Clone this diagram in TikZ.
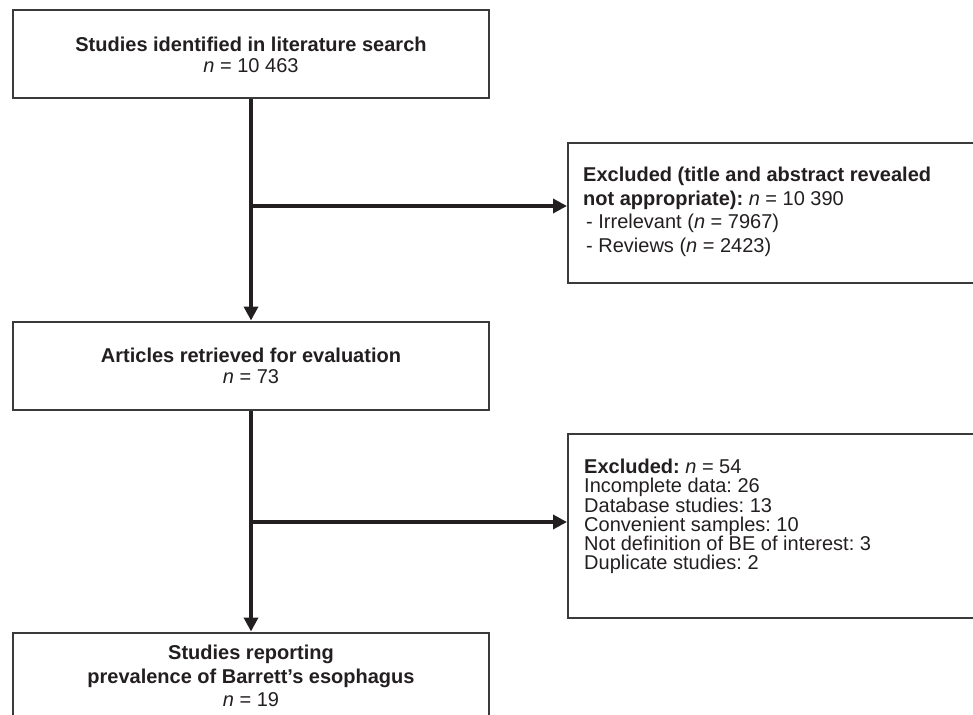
\documentclass[tikz,border=0pt]{standalone}
\usepackage{fontspec}
\setmainfont{Liberation Sans}
\usetikzlibrary{positioning,arrows.meta}

\definecolor{boxgray}{HTML}{3A3A3A}
\definecolor{inkgray}{HTML}{231F20}
\frenchspacing

\begin{document}
\begin{tikzpicture}[x=1pt, y=1pt,
  box/.style = {draw=boxgray, line width=2pt, minimum width=476pt, minimum height=88pt, inner sep=0pt, align=center, text=inkgray, font=\fontsize{20}{21}\selectfont},
  side/.style = {draw=boxgray, line width=2pt, minimum width=420pt, inner sep=0pt, anchor=north west},
  note/.style = {inner sep=0pt, align=left, text=inkgray, font=\fontsize{20}{19.2}\selectfont},
  flow/.style = {draw=inkgray, line width=4pt, -{Triangle[length=14pt, width=14pt]}}]
				\useasboundingbox (0,0) rectangle (973,-714);
				\clip (0,0) rectangle (973,-714);
				% main column
				\node[box] (search) at (251,-54.5) {\textbf{Studies identified in literature search}\\\textit{n} = 10 463};
				\node[box] (articles) [below=221pt of search] {\textbf{Articles retrieved for evaluation}\\\textit{n} = 73};
				\node[box, minimum height=87pt, font=\fontsize{20}{23.5}\selectfont] (reporting) [below=221pt of articles] {\textbf{Studies reporting}\\\textbf{prevalence of Barrett's esophagus}\\\textit{n} = 19};
				% exclusions
				\node[side, minimum height=140pt] (title) at (567,-142) {};
				\node[note, font=\fontsize{20}{23.5}\selectfont] (titletxt) [below right=25pt and 16pt of title.north west] {\textbf{Excluded (title and abstract revealed}\\\textbf{not appropriate):} \textit{n} = 10 390\\\hspace{3pt}- Irrelevant (\textit{n} = 7967)\\\hspace{3pt}- Reviews (\textit{n} = 2423)};
				\node[side, minimum height=184pt] (fulltext) at (567,-433) {};
				\node[note] (fulltexttxt) [below right=26pt and 17pt of fulltext.north west] {\textbf{Excluded:} \textit{n} = 54\\Incomplete data: 26\\Database studies: 13\\Convenient samples: 10\\Not definition of BE of interest: 3\\Duplicate studies: 2};
				% arrows
				\coordinate (fork1) at (search.south |- 0,-206);
				\coordinate (fork2) at (articles.south |- 0,-522);
				\draw[flow] (search) -- (articles);
				\draw[flow] (fork1) -- (fork1 -| title.west);
				\draw[flow] (articles) -- (reporting);
				\draw[flow] (fork2) -- (fork2 -| fulltext.west);
			\end{tikzpicture}
\end{document}
